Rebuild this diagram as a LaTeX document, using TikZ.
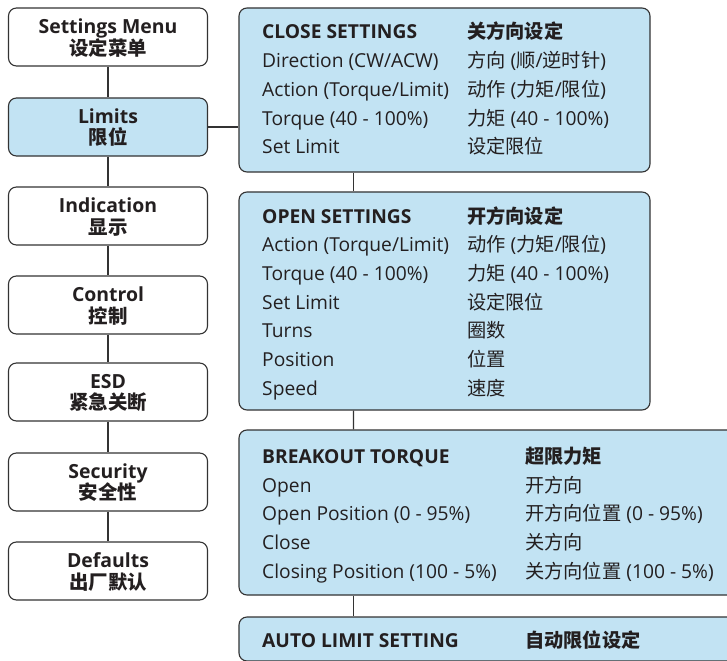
\documentclass[tikz,border=0pt]{standalone}
\usepackage{fontspec}
\setmainfont{Open Sans}
\newfontfamily\cjk{Noto Sans CJK SC}
\newcommand\zh[1]{{\cjk #1}}
\definecolor{boxblue}{HTML}{C2E3F3}
\definecolor{edge}{HTML}{333333}
\definecolor{ink}{HTML}{231F20}
\begin{document}
\begin{tikzpicture}[x=1bp,y=-1bp,
  menubox/.style={draw=edge, line width=1.1bp, rounded corners=8bp,
    minimum width=199bp, minimum height=58bp, inner sep=0pt, align=center,
    font=\fontsize{19.5}{22}\selectfont\bfseries, text=ink},
  limbox/.style={menubox, fill=boxblue},
  panel/.style={draw=edge, fill=boxblue, line width=1.1bp, rounded corners=8bp, inner sep=0pt},
  paneltext/.style={anchor=base west, inner sep=0pt, text=ink, font=\fontsize{19.3}{28.8}\selectfont},
  link/.style={draw=edge, line width=1.1bp}
]
\useasboundingbox (0,0) rectangle (727,661);
% left column
\node[menubox] (menu) at (108,37) {\rule{0pt}{16bp}Settings Menu\\\zh{设定菜单}};
\node[limbox] (lim) at (108,127) {\rule{0pt}{16bp}Limits\\\zh{限位}};
\node[menubox] (ind) at (108,216) {\rule{0pt}{16bp}Indication\\\zh{显示}};
\node[menubox] (ctl) at (108,305) {\rule{0pt}{16bp}Control\\\zh{控制}};
\node[menubox] (esd) at (108,392) {\rule{0pt}{16bp}ESD\\\zh{紧急关断}};
\node[menubox] (sec) at (108,482) {\rule{0pt}{16bp}Security\\\zh{安全性}};
\node[menubox] (def) at (108,571) {\rule{0pt}{16bp}Defaults\\\zh{出厂默认}};
% right panels
\node[panel, minimum width=411bp, minimum height=164bp] (close) at (444.5,90) {};
\node[panel, minimum width=411bp, minimum height=218bp] (open) at (444.5,301) {};
\node[panel, minimum width=506bp, minimum height=165bp] (brk) at (492,512.5) {};
\node[panel, minimum width=506bp, minimum height=44bp] (auto) at (492,639) {};
% connectors
\draw[link] (menu) -- (lim);
\draw[link] (lim) -- (ind);
\draw[link] (ind) -- (ctl);
\draw[link] (ctl) -- (esd);
\draw[link] (esd) -- (sec);
\draw[link] (sec) -- (def);
\draw[link] (lim.east) -- (lim.east -| close.west);
\draw[link] ([xshift=115bp]close.south west) -- ([xshift=115bp]open.north west);
\draw[link] ([xshift=115bp]open.south west) -- ([xshift=115bp]brk.north west);
\draw[link] ([xshift=115bp]brk.south west) -- ([xshift=115bp]auto.north west);
% panel texts
\node[paneltext] (closetxt) at (262,39) {\begin{tabular}[t]{@{}p{205bp}@{}l@{}}
\textbf{CLOSE SETTINGS} & \textbf{\zh{关方向设定}}\\
Direction (CW/ACW) & \zh{方向} (\zh{顺}/\zh{逆时针})\\
Action (Torque/Limit) & \zh{动作} (\zh{力矩}/\zh{限位})\\
Torque (40 - 100\%) & \zh{力矩} (40 - 100\%)\\
Set Limit & \zh{设定限位}
\end{tabular}};
\node[paneltext] (opentxt) at (262,223) {\begin{tabular}[t]{@{}p{205bp}@{}l@{}}
\textbf{OPEN SETTINGS} & \textbf{\zh{开方向设定}}\\
Action (Torque/Limit) & \zh{动作} (\zh{力矩}/\zh{限位})\\
Torque (40 - 100\%) & \zh{力矩} (40 - 100\%)\\
Set Limit & \zh{设定限位}\\
Turns & \zh{圈数}\\
Position & \zh{位置}\\
Speed & \zh{速度}
\end{tabular}};
\node[paneltext] (brktxt) at (262,463.5) {\begin{tabular}[t]{@{}p{263bp}@{}l@{}}
\textbf{BREAKOUT TORQUE} & \textbf{\zh{超限力矩}}\\
Open & \zh{开方向}\\
Open Position (0 - 95\%) & \zh{开方向位置} (0 - 95\%)\\
Close & \zh{关方向}\\
Closing Position (100 - 5\%) & \zh{关方向位置} (100 - 5\%)
\end{tabular}};
\node[paneltext] (autotxt) at (262,647) {\begin{tabular}[t]{@{}p{263bp}@{}l@{}}
\textbf{AUTO LIMIT SETTING} & \textbf{\zh{自动限位设定}}
\end{tabular}};
\end{tikzpicture}
\end{document}
